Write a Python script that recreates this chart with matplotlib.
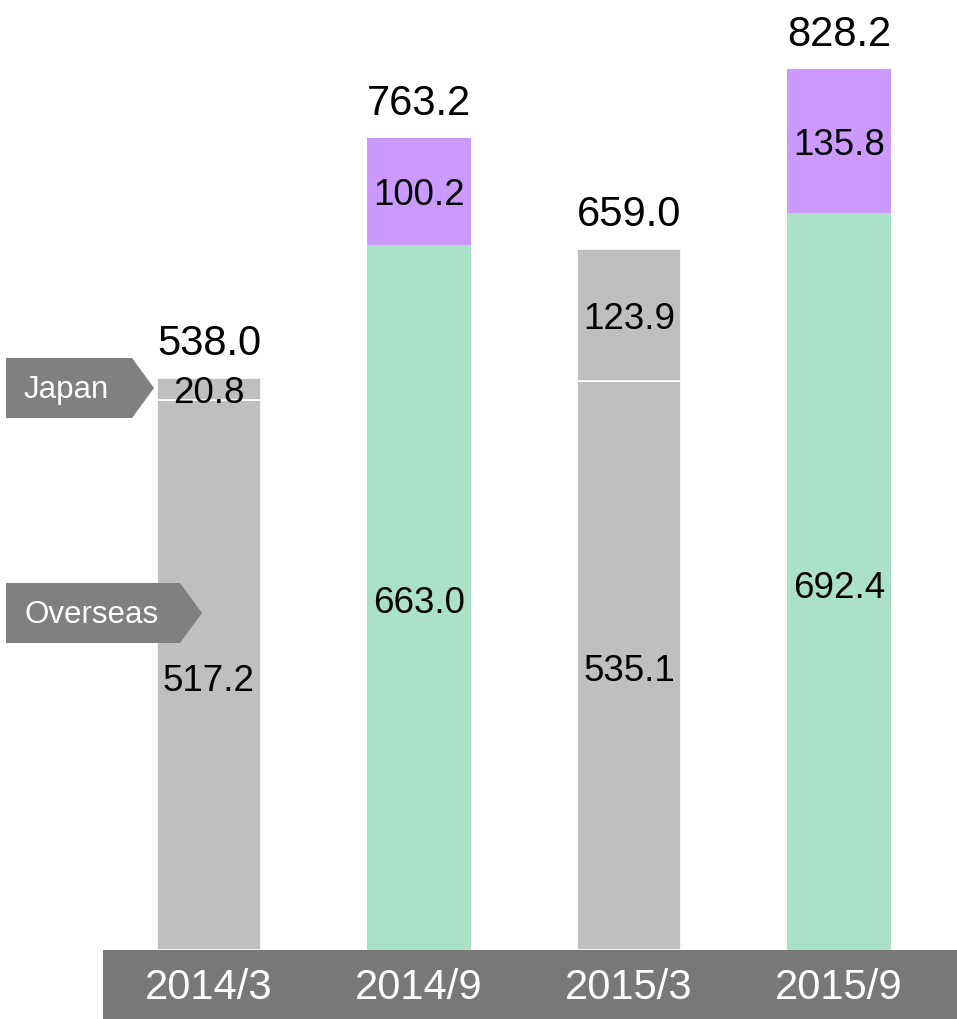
import numpy as np
import matplotlib
matplotlib.use('Agg')
import matplotlib.pyplot as plt
from matplotlib.patches import Polygon, Rectangle

plt.rcParams['font.family'] = ['Liberation Sans', 'DejaVu Sans']

# data
periods = ['2014/3', '2014/9', '2015/3', '2015/9']
overseas = [517.2, 663.0, 535.1, 692.4]
japan = [20.8, 100.2, 123.9, 135.8]
totals = [538.0, 763.2, 659.0, 828.2]

gray = '#bfbfbf'
green = '#abe0c9'
purple = '#cc99ff'
overseas_colors = [gray, green, gray, green]
japan_colors = [gray, purple, gray, purple]
edge_colors = ['white', 'none', 'white', 'none']

W, H = 957, 1020
fig = plt.figure(figsize=(W / 100, H / 100), dpi=100)

# bar axes: baseline at y=950 px, 1.064 px per unit, bar spacing 210 px
px_per_unit = 1.064
base_px = 951
ax_h = base_px - 1
ax = fig.add_axes([0, (H - base_px) / H, 1, ax_h / H])
ax.set_ylim(0, ax_h / px_per_unit)
ax.set_xlim(-209 / 210, (W - 209) / 210)
ax.axis('off')

x = np.arange(len(periods))
ax.bar(x, overseas, width=0.495, color=overseas_colors, edgecolor=edge_colors, linewidth=1.2)
ax.bar(x, japan, width=0.495, bottom=overseas, color=japan_colors, edgecolor=edge_colors, linewidth=1.2)

for i in range(len(periods)):
    ax.annotate('%.1f' % overseas[i], (x[i], overseas[i] / 2), xytext=(0, -4), textcoords='offset points',
                ha='center', va='center', fontsize=26.5)
    ax.annotate('%.1f' % japan[i], (x[i], overseas[i] + japan[i] / 2), xytext=(0, -2.5),
                textcoords='offset points', ha='center', va='center', fontsize=26.5)
    ax.annotate('%.1f' % totals[i], (x[i], totals[i]), xytext=(0, 17), textcoords='offset points',
                ha='center', va='baseline', fontsize=30)

# bottom band with period labels
fig.patches.append(Rectangle((103 / W, 0), (W - 103) / W, (H - base_px) / H,
                             transform=fig.transFigure, facecolor='#787878', edgecolor='none'))
for i in range(len(periods)):
    xf = ax.transData.transform((x[i], 0))[0] / W
    fig.text(xf, (H - 988) / H, periods[i], ha='center', va='center', color='white', fontsize=30)

# arrow tags on the left
def tag(text, y0, y1, x_body, x_tip, fs):
    pts = [(6, y0), (x_body, y0), (x_tip, (y0 + y1) / 2), (x_body, y1), (6, y1)]
    pts = [(px / W, 1 - py / H) for px, py in pts]
    fig.patches.append(Polygon(pts, closed=True, transform=fig.transFigure,
                               facecolor='#808080', edgecolor='none'))
    fig.text(24 / W, 1 - ((y0 + y1) / 2 + 1.5) / H, text, ha='left', va='center', color='white', fontsize=fs)

tag('Japan', 359, 419, 132, 154, 22.5)
tag('Overseas', 584, 644, 180, 202, 22.5)

fig.savefig('out.png', dpi=100)
